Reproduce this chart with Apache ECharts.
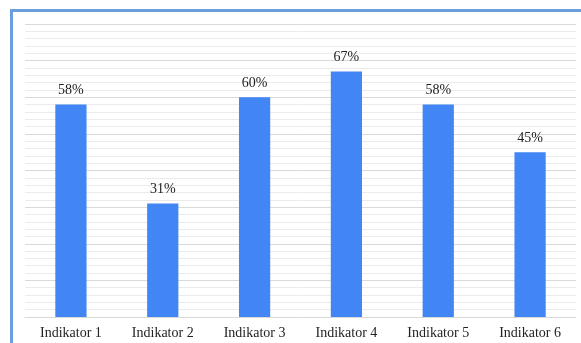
<!DOCTYPE html>
<html lang="id">
<head>
<meta charset="utf-8">
<title>Indikator</title>
<script src="https://cdn.jsdelivr.net/npm/echarts@6/dist/echarts.min.js"></script>
<style>
    html, body { margin: 0; padding: 0; background: #fff; overflow: hidden; }
    #frame { position: absolute; left: 10px; top: 9px; width: 600px; height: 360px;
             border-left: 3px solid #6a9fdc; border-top: 3px solid #6a9fdc; }
    #chart { position: absolute; left: 0; top: 0; width: 581px; height: 343px; }
</style>
</head>
<body>
<div id="frame"></div>
<div id="chart"></div>
<script>
var categories = ['Indikator 1', 'Indikator 2', 'Indikator 3', 'Indikator 4', 'Indikator 5', 'Indikator 6'];
var values = [58, 31, 60, 67, 58, 45];

var chart = echarts.init(document.getElementById('chart'));
chart.setOption({
    animation: false,
    grid: { left: 25, right: 5, top: 24, bottom: 26 },
    xAxis: {
        type: 'category',
        data: categories,
        axisTick: { show: false },
        axisLine: { lineStyle: { color: '#d9d9d9' } },
        axisLabel: { color: '#222', fontFamily: 'Liberation Serif', fontSize: 14, margin: 9 }
    },
    yAxis: {
        type: 'value',
        min: 0, max: 80, interval: 10,
        axisLabel: { show: false },
        axisLine: { show: false },
        axisTick: { show: false },
        minorTick: { show: false, splitNumber: 5 },
        splitLine: { lineStyle: { color: '#d9d9d9' } },
        minorSplitLine: { show: true, lineStyle: { color: '#ebebeb' } }
    },
    series: [{
        type: 'bar',
        data: values,
        barWidth: '34%',
        itemStyle: { color: '#4285f4' },
        label: {
            show: true, position: 'top', distance: 7,
            formatter: '{c}%', color: '#222',
            fontFamily: 'Liberation Serif', fontSize: 14
        }
    }]
});
</script>
</body>
</html>
